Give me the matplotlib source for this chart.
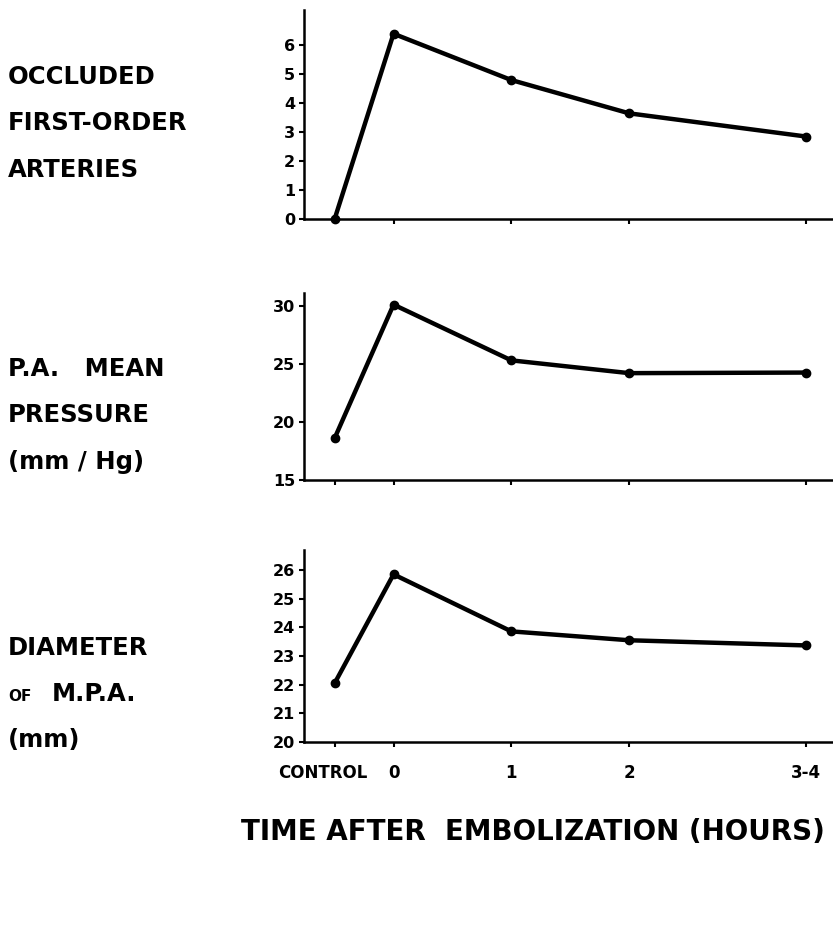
import matplotlib
matplotlib.use("Agg")
import matplotlib.pyplot as plt
import matplotlib.transforms as mtransforms

# Time points (hours after embolization); control sits half a step before 0
time_labels = ["CONTROL", "0", "1", "2", "3-4"]
time_pos = [-0.5, 0, 1, 2, 3.5]

occluded_arteries = [0.0, 6.4, 4.8, 3.65, 2.85]
pa_mean_pressure = [18.6, 30.1, 25.3, 24.2, 24.25]
mpa_diameter = [22.05, 25.85, 23.86, 23.55, 23.37]

occluded_ticks = [0, 1, 2, 3, 4, 5, 6]
pressure_ticks = [15, 20, 25, 30]
diameter_ticks = [20, 21, 22, 23, 24, 25, 26]

W, H = 833, 926
fig = plt.figure(figsize=(W / 100, H / 100), dpi=100)
plt.rcParams["font.family"] = ["DejaVu Sans"]
plt.rcParams["font.weight"] = "bold"

x_left_px, x_right_px = 304, 833


def panel(top_px, bottom_px):
    return fig.add_axes([x_left_px / W, 1 - bottom_px / H,
                         (x_right_px - x_left_px) / W, (bottom_px - top_px) / H])


panels = [
    (panel(10, 219), occluded_arteries, occluded_ticks, (0, 7.22)),
    (panel(293, 480), pa_mean_pressure, pressure_ticks, (15, 31.1)),
    (panel(550, 742), mpa_diameter, diameter_ticks, (20, 26.7)),
]

for i, (ax, values, yticks, ylim) in enumerate(panels):
    ax.plot(time_pos, values, color="black", linewidth=3.2, marker="o",
            markersize=6, solid_joinstyle="round", clip_on=False)
    ax.set_xlim(-0.76, 3.73)
    ax.set_ylim(*ylim)
    ax.set_yticks(yticks)
    ax.set_yticklabels([str(t) for t in yticks], fontsize=11.5, fontweight="bold")
    ax.set_xticks(time_pos)
    for side in ("top", "right"):
        ax.spines[side].set_visible(False)
    for side in ("left", "bottom"):
        ax.spines[side].set_linewidth(1.8)
    ax.tick_params(axis="both", direction="out", length=3.5, width=1.5, pad=3)
    if i == 2:
        ax.set_xticklabels(time_labels, fontsize=12, fontweight="bold")
        ax.tick_params(axis="x", pad=12)
        # shift the CONTROL label a little to the left of its tick
        lbl = ax.get_xticklabels()[0]
        lbl.set_transform(lbl.get_transform() +
                          mtransforms.ScaledTranslation(-0.12, 0, fig.dpi_scale_trans))
    else:
        ax.set_xticklabels([])

# Row labels on the left
label_kw = dict(fontsize=17.5, fontweight="bold", va="center", ha="left", color="black")
row_labels = [
    (77, "OCCLUDED"), (123, "FIRST-ORDER"), (170, "ARTERIES"),
    (369, "P.A.   MEAN"), (415, "PRESSURE"), (462, "(mm / Hg)"),
    (648, "DIAMETER"), (740, "(mm)"),
]
for y_px, txt in row_labels:
    fig.text(8 / W, 1 - y_px / H, txt, **label_kw)
fig.text(8 / W, 1 - 701 / H, "OF", fontsize=11, fontweight="bold",
         va="baseline", ha="left")
fig.text(52 / W, 1 - 701 / H, "M.P.A.", fontsize=17.5, fontweight="bold",
         va="baseline", ha="left")

# Common x-axis title
fig.text(533 / W, 1 - 832 / H, "TIME AFTER  EMBOLIZATION (HOURS)",
         fontsize=20, fontweight="bold", ha="center", va="center")

fig.savefig("out.png", dpi=100)
